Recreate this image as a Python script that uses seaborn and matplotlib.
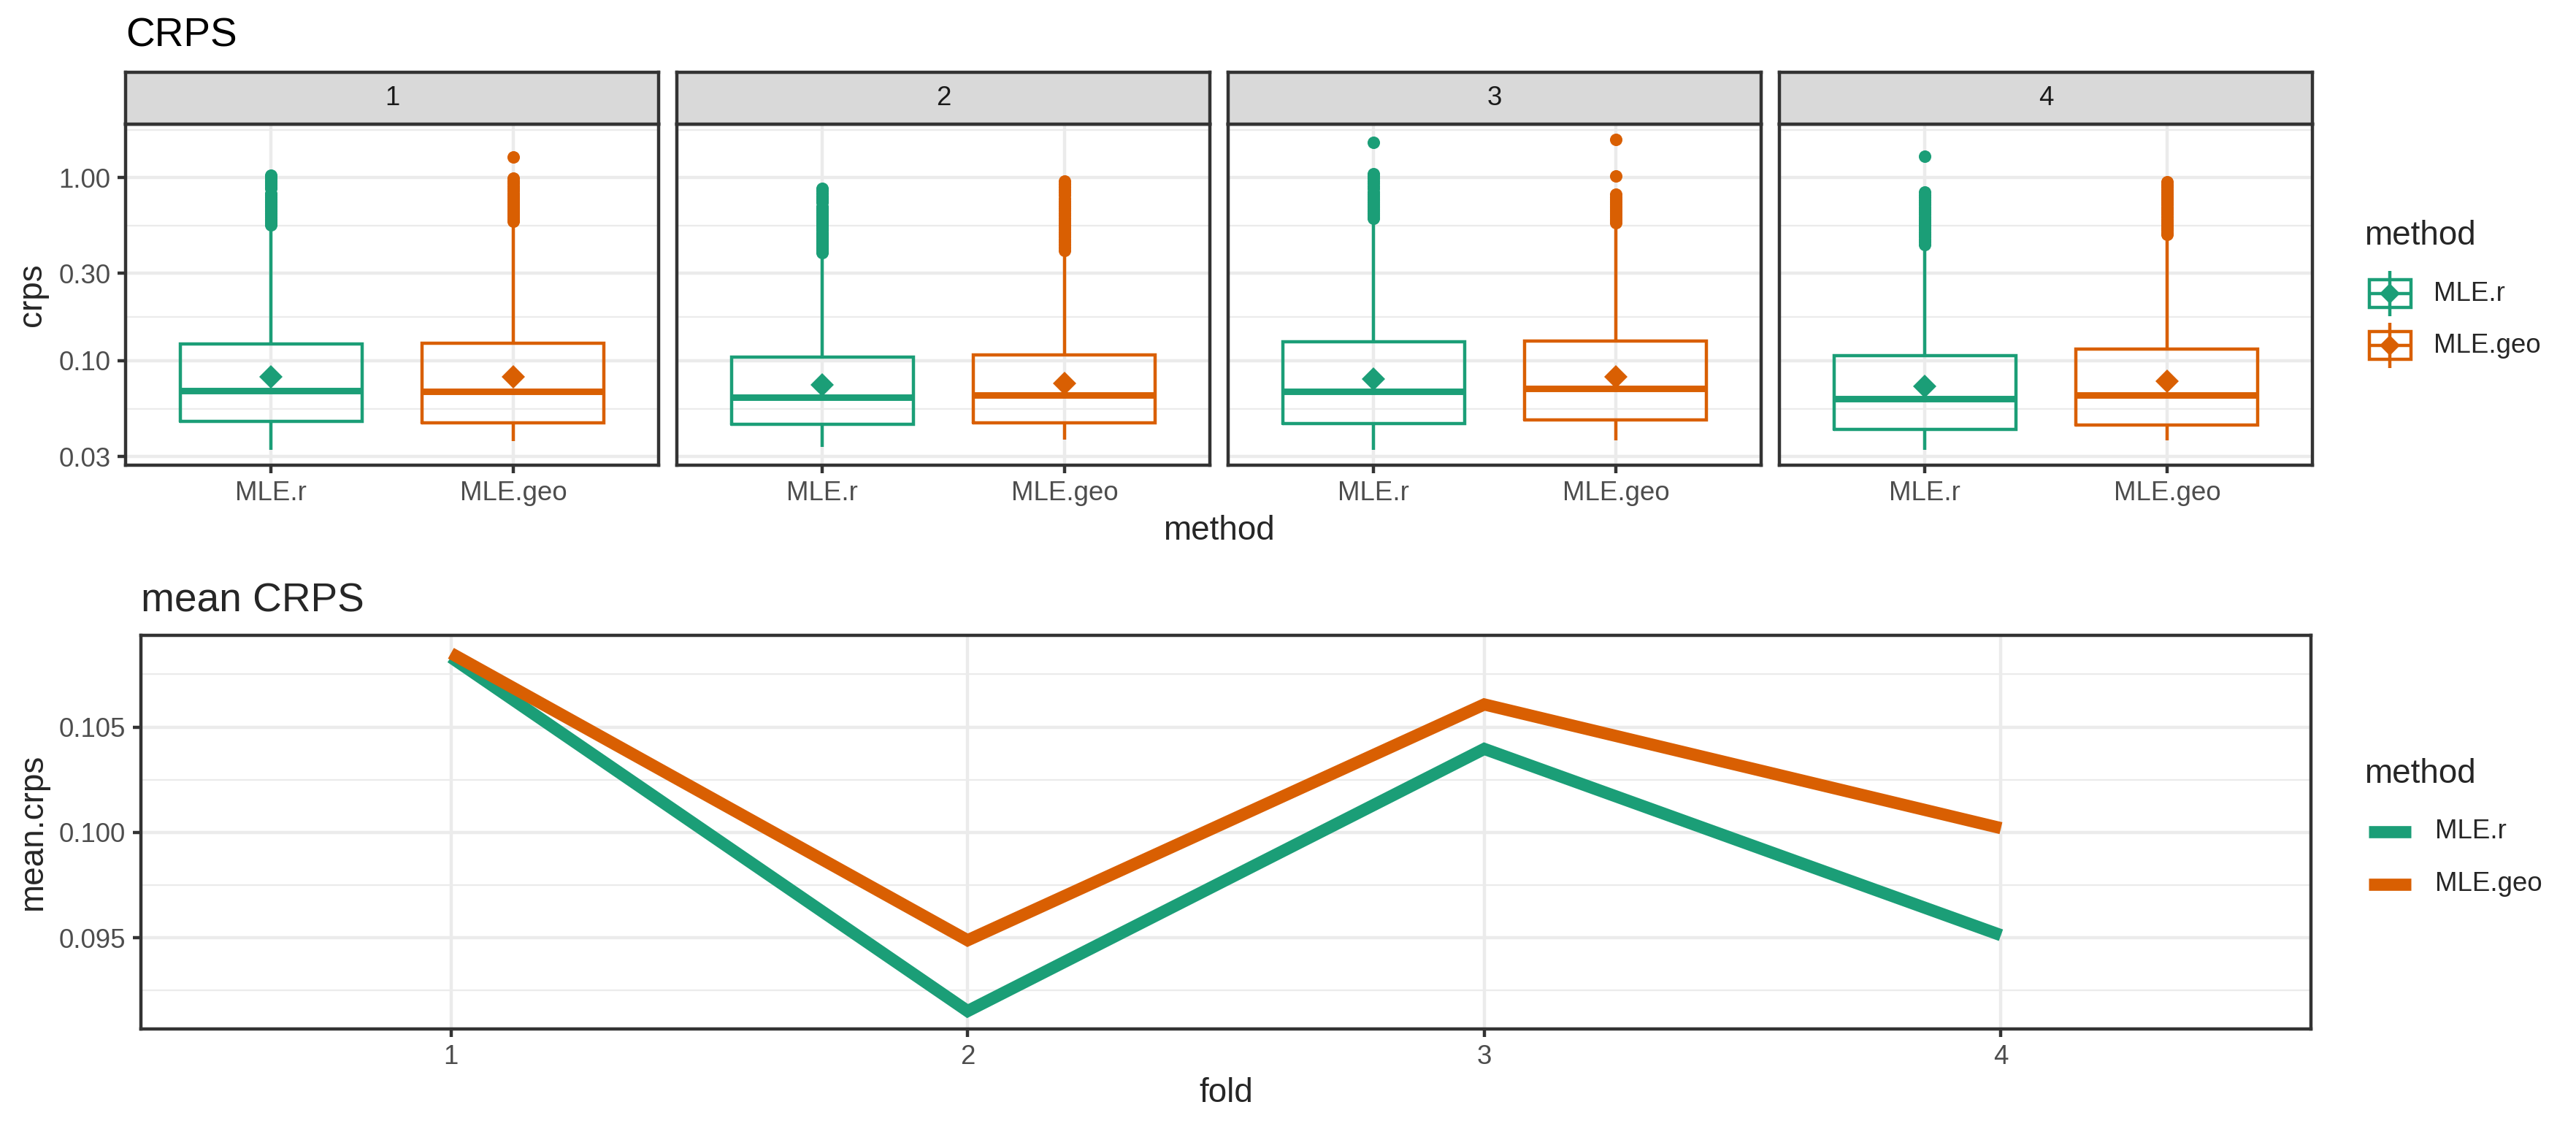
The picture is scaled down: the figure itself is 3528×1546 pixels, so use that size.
import matplotlib
matplotlib.use("Agg")
import matplotlib.pyplot as plt
from matplotlib.lines import Line2D
from matplotlib.patches import Rectangle
from matplotlib.ticker import FixedLocator, NullFormatter
import numpy as np
import pandas as pd
import seaborn as sns

# ---- data ----
folds = [1, 2, 3, 4]
methods = ["MLE.r", "MLE.geo"]
colors = {"MLE.r": "#1B9E77", "MLE.geo": "#D95F02"}

# boxplot summaries of crps per fold (log10 axis)
crps_q1 = {"MLE.r": [0.0468, 0.0450, 0.0454, 0.0421],
           "MLE.geo": [0.0457, 0.0460, 0.0474, 0.0446]}
crps_median = {"MLE.r": [0.0689, 0.0629, 0.0683, 0.0623],
               "MLE.geo": [0.0683, 0.0649, 0.0705, 0.0649]}
crps_q3 = {"MLE.r": [0.124, 0.1047, 0.127, 0.1062],
           "MLE.geo": [0.125, 0.108, 0.128, 0.1158]}
crps_whisk_lo = {"MLE.r": [0.0327, 0.0337, 0.0327, 0.0327],
                 "MLE.geo": [0.0363, 0.0371, 0.0367, 0.0369]}
crps_whisk_hi = {"MLE.r": [0.54, 0.38, 0.59, 0.42],
                 "MLE.geo": [0.57, 0.39, 0.56, 0.48]}
crps_mean = {"MLE.r": [0.082, 0.0738, 0.0796, 0.0726],
             "MLE.geo": [0.082, 0.0755, 0.082, 0.0771]}
crps_outliers = {
    "MLE.r": [
        [0.552, 0.565, 0.58, 0.595, 0.61, 0.625, 0.64, 0.655, 0.67, 0.685, 0.70, 0.715,
         0.73, 0.745, 0.76, 0.78, 0.80, 0.82, 0.87, 0.89, 0.91, 0.935, 0.96, 0.985, 1.01, 1.03],
        [0.388, 0.40, 0.41, 0.42, 0.43, 0.44, 0.45, 0.46, 0.47, 0.48, 0.49, 0.50, 0.515,
         0.53, 0.545, 0.56, 0.575, 0.59, 0.605, 0.62, 0.635, 0.65, 0.665, 0.68, 0.695,
         0.73, 0.75, 0.77, 0.79, 0.82, 0.85, 0.875],
        [0.596, 0.61, 0.625, 0.64, 0.655, 0.67, 0.685, 0.70, 0.715, 0.73, 0.75, 0.77,
         0.79, 0.81, 0.83, 0.87, 0.90, 0.93, 0.96, 0.99, 1.02, 1.05, 1.55],
        [0.432, 0.445, 0.46, 0.475, 0.49, 0.505, 0.52, 0.535, 0.55, 0.565, 0.58, 0.595,
         0.61, 0.63, 0.65, 0.67, 0.69, 0.71, 0.73, 0.755, 0.78, 0.805, 0.835, 1.31],
    ],
    "MLE.geo": [
        [0.578, 0.595, 0.61, 0.625, 0.64, 0.655, 0.67, 0.685, 0.70, 0.72, 0.74, 0.76,
         0.78, 0.80, 0.82, 0.845, 0.87, 0.90, 0.93, 0.96, 0.99, 1.29],
        [0.401, 0.415, 0.43, 0.445, 0.46, 0.475, 0.49, 0.505, 0.52, 0.535, 0.55, 0.565,
         0.58, 0.60, 0.62, 0.64, 0.66, 0.68, 0.70, 0.72, 0.74, 0.77, 0.80, 0.83, 0.86,
         0.89, 0.92, 0.957],
        [0.569, 0.58, 0.595, 0.61, 0.625, 0.64, 0.655, 0.67, 0.685, 0.70, 0.72, 0.74,
         0.76, 0.78, 0.81, 1.02, 1.61],
        [0.489, 0.50, 0.515, 0.53, 0.545, 0.56, 0.575, 0.59, 0.61, 0.63, 0.65, 0.67,
         0.69, 0.71, 0.73, 0.75, 0.77, 0.79, 0.81, 0.835, 0.86, 0.885, 0.91, 0.944],
    ],
}
crps_ticks = [0.03, 0.10, 0.30, 1.00]
crps_ticklabels = ["0.03", "0.10", "0.30", "1.00"]

# mean crps per fold
mean_crps = {"MLE.r": [0.10831, 0.09152, 0.10396, 0.09512],
             "MLE.geo": [0.10850, 0.09488, 0.10607, 0.10020]}
mean_ticks = [0.095, 0.100, 0.105]
mean_ticklabels = ["0.095", "0.100", "0.105"]

# ---- style ----
sns.set_theme(style="white")
plt.rcParams["font.family"] = ["Liberation Sans", "DejaVu Sans"]

W, H = 3528, 1546
LW = 1.07            # ggplot linewidth 0.5 in points
LINE_W = 4.0         # mean crps lines
GRID = "#EBEBEB"
DARK = "#333333"
TICKTXT = "#4D4D4D"

fig = plt.figure(figsize=(W / 300, H / 300), dpi=300)


def rect(l, t, r, b):
    return [l / W, 1 - b / H, (r - l) / W, (b - t) / H]


def fx(x):
    return x / W


def fy(y):
    return 1 - y / H


def style_axes(ax):
    ax.set_facecolor("white")
    for s in ax.spines.values():
        s.set_color(DARK)
        s.set_linewidth(LW)
    ax.set_axisbelow(True)
    ax.grid(True, which="major", color=GRID, linewidth=LW)
    ax.grid(True, which="minor", axis="y", color=GRID, linewidth=LW / 2)
    ax.tick_params(which="major", length=2.75, width=LW, color=DARK, pad=2.2,
                   labelsize=8.8, labelcolor=TICKTXT, left=True, bottom=True)
    ax.tick_params(which="minor", length=0)


# ---- top row: boxplots faceted by fold ----
all_low = min(min(v) for v in crps_whisk_lo.values())
all_high = max(max(max(o) for o in v) for v in crps_outliers.values())
lg_lo, lg_hi = np.log10(all_low), np.log10(all_high)
pad = 0.05 * (lg_hi - lg_lo)
ylim_top = (10 ** (lg_lo - pad), 10 ** (lg_hi + pad))
minor_top = [np.sqrt(a * b) for a, b in zip(crps_ticks[:-1], crps_ticks[1:])]
minor_top.append(crps_ticks[-1] ** 2 / minor_top[-1])

panel_left = [172, 927, 1682, 2437]
panel_w = 730
top_t, top_b, strip_t = 170, 637, 99

for i, fold in enumerate(folds):
    l = panel_left[i]
    ax = fig.add_axes(rect(l, top_t, l + panel_w, top_b))
    ax.set_yscale("log")
    for j, m in enumerate(methods):
        c = colors[m]
        st = [dict(med=crps_median[m][i], q1=crps_q1[m][i], q3=crps_q3[m][i],
                   whislo=crps_whisk_lo[m][i], whishi=crps_whisk_hi[m][i],
                   fliers=crps_outliers[m][i])]
        ax.bxp(st, positions=[j + 1], widths=0.75, showcaps=False, manage_ticks=False,
               boxprops=dict(color=c, linewidth=LW, solid_joinstyle="miter"),
               whiskerprops=dict(color=c, linewidth=LW, solid_capstyle="butt"),
               medianprops=dict(color=c, linewidth=2 * LW, solid_capstyle="butt"),
               flierprops=dict(marker="o", markerfacecolor=c, markeredgecolor=c,
                               markersize=4.1, markeredgewidth=0))
        ax.plot([j + 1], [crps_mean[m][i]], marker="D", markersize=5.4, color=c,
                markeredgewidth=0, linestyle="none", zorder=5)
    ax.set_xlim(0.4, 2.6)
    ax.set_ylim(*ylim_top)
    ax.set_xticks([1, 2])
    ax.set_xticklabels(methods)
    ax.yaxis.set_major_locator(FixedLocator(crps_ticks))
    ax.yaxis.set_minor_locator(FixedLocator(minor_top))
    ax.yaxis.set_minor_formatter(NullFormatter())
    style_axes(ax)
    if i == 0:
        ax.set_yticklabels(crps_ticklabels)
    else:
        ax.tick_params(axis="y", left=False, labelleft=False)

    sax = fig.add_axes(rect(l, strip_t, l + panel_w, top_t))
    sax.set_facecolor("#D9D9D9")
    sax.set_xticks([])
    sax.set_yticks([])
    for s in sax.spines.values():
        s.set_color(DARK)
        s.set_linewidth(LW)
    sax.text(0.5, 0.5, str(fold), ha="center", va="center", fontsize=8.8,
             color="#1A1A1A", transform=sax.transAxes)

fig.text(fx(172), fy(63), "CRPS", fontsize=13.2, color="black", ha="left", va="baseline")
fig.text(fx((172 + 3166) / 2), fy(727), "method", fontsize=11, ha="center", va="center")
fig.text(fx(44), fy((top_t + top_b) / 2), "crps", fontsize=11, rotation=90,
         ha="center", va="center")

# top legend (boxplot keys)
fig.text(fx(3238), fy(323), "method", fontsize=11, ha="left", va="center")
for k, m in enumerate(methods):
    c = colors[m]
    cy = 402 + 71 * k
    fig.add_artist(Line2D([fx(3273), fx(3273)], [fy(cy - 31), fy(cy + 31)],
                          color=c, linewidth=LW, solid_capstyle="butt"))
    fig.add_artist(Rectangle((fx(3245), fy(cy + 19)), fx(3302) - fx(3245),
                             fy(cy - 19) - fy(cy + 19), facecolor="white",
                             edgecolor=c, linewidth=LW, joinstyle="miter",
                             transform=fig.transFigure))
    fig.add_artist(Line2D([fx(3245), fx(3302)], [fy(cy), fy(cy)], color=c,
                          linewidth=LW, solid_capstyle="butt"))
    fig.add_artist(Line2D([fx(3273)], [fy(cy)], marker="D", markersize=4.8,
                          color=c, markeredgewidth=0, linestyle="none"))
    fig.text(fx(3333), fy(cy), m, fontsize=8.8, ha="left", va="center")

# ---- bottom: mean crps per fold ----
ax2 = fig.add_axes(rect(193, 870, 3165, 1409))
df = pd.DataFrame({
    "fold": folds * len(methods),
    "method": [m for m in methods for _ in folds],
    "mean.crps": mean_crps["MLE.r"] + mean_crps["MLE.geo"],
})
sns.lineplot(data=df, x="fold", y="mean.crps", hue="method", hue_order=methods,
             palette=colors, linewidth=LINE_W, legend=False, errorbar=None, ax=ax2)
for ln in ax2.lines:
    ln.set_solid_joinstyle("miter")
    ln.set_solid_capstyle("butt")

vals = df["mean.crps"]
ypad = 0.05 * (vals.max() - vals.min())
ax2.set_ylim(vals.min() - ypad, vals.max() + ypad)
ax2.set_xlim(0.4, 4.6)
ax2.set_xticks(folds)
ax2.set_xticklabels([str(f) for f in folds])
ax2.yaxis.set_major_locator(FixedLocator(mean_ticks))
step = mean_ticks[1] - mean_ticks[0]
minor_bot = [mean_ticks[0] - step / 2] + [t + step / 2 for t in mean_ticks]
ax2.yaxis.set_minor_locator(FixedLocator(minor_bot))
ax2.set_yticklabels(mean_ticklabels)
ax2.set_xlabel("")
ax2.set_ylabel("")
style_axes(ax2)

fig.text(fx(193), fy(838), "mean CRPS", fontsize=13.2, ha="left", va="baseline")
fig.text(fx((193 + 3165) / 2), fy(1497), "fold", fontsize=11, ha="center", va="center")
fig.text(fx(45), fy((870 + 1409) / 2), "mean.crps", fontsize=11, rotation=90,
         ha="center", va="center")

# bottom legend (line keys)
fig.text(fx(3238), fy(1060), "method", fontsize=11, ha="left", va="center")
for k, m in enumerate(methods):
    cy = 1139 + 72 * k
    fig.add_artist(Line2D([fx(3244), fx(3302)], [fy(cy), fy(cy)], color=colors[m],
                          linewidth=LINE_W, solid_capstyle="butt"))
    fig.text(fx(3335), fy(cy), m, fontsize=8.8, ha="left", va="center")

fig.savefig("out.png", dpi=300, facecolor="white")
